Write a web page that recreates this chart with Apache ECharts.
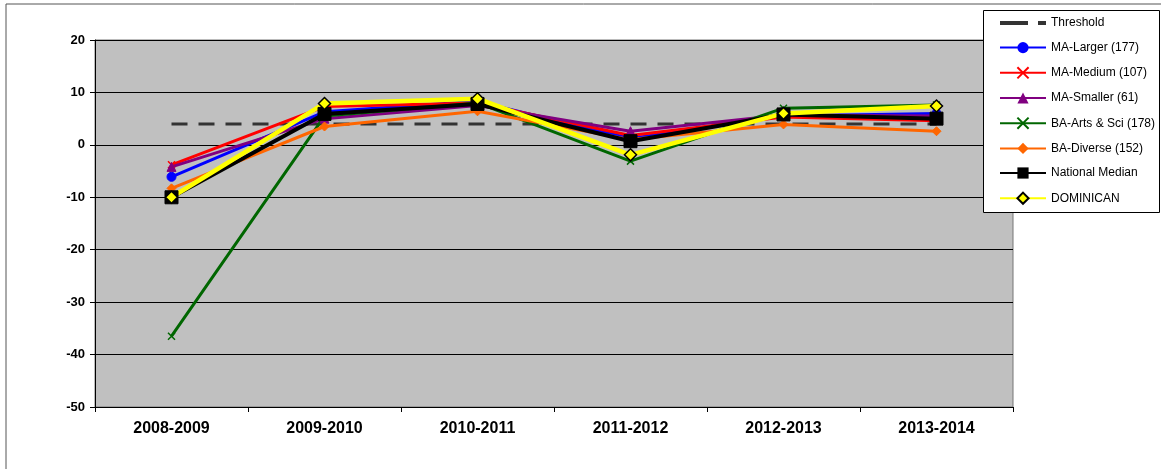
<!DOCTYPE html>
<html>
<head>
<meta charset="utf-8">
<script src="https://cdn.jsdelivr.net/npm/echarts@6/dist/echarts.min.js"></script>
<style>
  html, body { margin: 0; padding: 0; background: #fff; }
  #chart { width: 1161px; height: 469px; }
</style>
</head>
<body>
<div id="chart"></div>
<script>
var categories = ['2008-2009', '2009-2010', '2010-2011', '2011-2012', '2012-2013', '2013-2014'];
var yTicks = { min: -50, max: 20, interval: 10 };

var threshold = [4, 4, 4, 4, 4, 4];
var maLarger  = [-6.1, 6.3, 8.3, 1.2, 5.5, 6.0];
var maMedium  = [-3.8, 7.3, 8.0, 1.8, 5.3, 4.6];
var maSmaller = [-4.2, 5.0, 7.5, 2.6, 5.7, 5.5];
var baArts    = [-36.5, 5.5, 8.0, -3.1, 7.0, 7.6];
var baDiverse = [-8.3, 3.5, 6.4, 1.0, 3.9, 2.6];
var national  = [-10, 5.9, 7.8, 0.7, 5.8, 5.0];
var dominican = [-10, 7.9, 8.8, -1.9, 6.0, 7.4];

var xMark = 'path://M0,0L10,10M10,0L0,10';
// dashed legend swatch for the threshold line
var dashIcon = 'path://M0,0h28v4h-28zM38,0h8v4h-8z';

function line(name, data, color, width, symbol, size, extra) {
    var s = {
        name: name,
        type: 'line',
        data: data,
        symbol: symbol,
        symbolSize: size,
        showSymbol: symbol != 'none',
        lineStyle: { color: color, width: width },
        itemStyle: { color: color, borderColor: color },
        emphasis: { disabled: true },
        animation: false
    };
    if (extra) {
        for (var k in extra) s[k] = extra[k];
    }
    return s;
}

var option = {
    backgroundColor: '#fff',
    textStyle: { fontFamily: 'Liberation Sans, Arial, sans-serif' },
    graphic: [
        {
            type: 'polyline',
            shape: { points: [[6, 469], [6, 4], [1161, 4]] },
            style: { stroke: '#555', lineWidth: 1, fill: null },
            silent: true
        },
        {
            type: 'rect',
            z: 10,
            shape: { x: 983.5, y: 10.5, width: 176, height: 202 },
            style: { fill: '#fff', stroke: '#000', lineWidth: 1 },
            silent: true
        }
    ],
    grid: { left: 95, right: 148, top: 40, bottom: 62, backgroundColor: '#c0c0c0', show: true, borderColor: '#777', borderWidth: 1 },
    legend: {
        orient: 'vertical',
        left: 999,
        top: 17,
        z: 20,
        padding: 0,
        itemGap: 12.6,
        itemWidth: 46,
        itemHeight: 14,
        textStyle: { fontSize: 12, color: '#000', fontFamily: 'Liberation Sans, Arial, sans-serif' },
        data: [
            { name: 'Threshold', icon: dashIcon },
            'MA-Larger (177)', 'MA-Medium (107)', 'MA-Smaller (61)', 'BA-Arts & Sci (178)', 'BA-Diverse (152)', 'National Median', 'DOMINICAN'
        ]
    },
    xAxis: {
        type: 'category',
        data: categories,
        boundaryGap: true,
        axisLine: { onZero: false, lineStyle: { color: '#000' } },
        axisTick: { show: true, length: 5, lineStyle: { color: '#000' } },
        axisLabel: { fontSize: 16, fontWeight: 'bold', color: '#000', margin: 14 }
    },
    yAxis: {
        type: 'value',
        min: yTicks.min,
        max: yTicks.max,
        interval: yTicks.interval,
        axisLine: { show: true, lineStyle: { color: '#000' } },
        axisTick: { show: true, length: 5, lineStyle: { color: '#000' } },
        axisLabel: { fontSize: 13, fontWeight: 'bold', color: '#000', margin: 10 },
        splitLine: { show: true, lineStyle: { color: '#000', width: 1 } }
    },
    series: [
        line('Threshold', threshold, '#333', 3, 'none', 0, { lineStyle: { color: '#333', width: 3, type: [16, 11] } }),
        line('MA-Larger (177)', maLarger, '#0000ff', 3, 'circle', 9),
        line('MA-Medium (107)', maMedium, '#ff0000', 3, xMark, 7, { itemStyle: { color: '#ff0000', borderColor: '#ff0000', borderWidth: 1.5 } }),
        line('MA-Smaller (61)', maSmaller, '#800080', 3, 'triangle', 9),
        line('BA-Arts & Sci (178)', baArts, '#006600', 3, xMark, 7, { itemStyle: { color: '#006600', borderColor: '#006600', borderWidth: 1.5 } }),
        line('BA-Diverse (152)', baDiverse, '#ff6600', 3, 'diamond', 9),
        line('National Median', national, '#000000', 4, 'rect', 13),
        line('DOMINICAN', dominican, '#ffff00', 4.5, 'diamond', 12, { itemStyle: { color: '#ffff00', borderColor: '#000', borderWidth: 1.5 } })
    ]
};

var myChart = echarts.init(document.getElementById('chart'));
myChart.setOption(option);
</script>
</body>
</html>
